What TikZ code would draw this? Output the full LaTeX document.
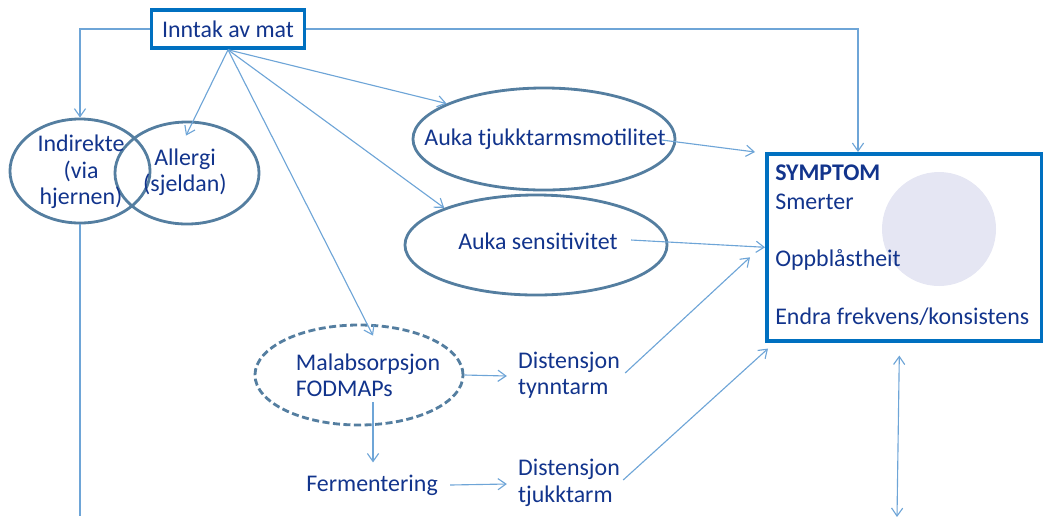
\documentclass[tikz,border=0pt]{standalone}
\usepackage{fontspec}
\setmainfont{Carlito}
\usetikzlibrary{shapes.geometric,arrows.meta,calc}

\definecolor{txtblue}{RGB}{18,52,140}
\definecolor{boxblue}{RGB}{0,112,192}
\definecolor{ringblue}{RGB}{84,126,160}
\definecolor{linkblue}{RGB}{110,165,215}
\definecolor{discfill}{RGB}{229,230,243}

\tikzset{
  lbl/.style={text=txtblue, font=\fontsize{17}{18.8}\selectfont, inner sep=0pt},
  ring/.style={ellipse, draw=ringblue, line width=2pt, inner sep=0pt},
  frame/.style={draw=boxblue, line width=2.5pt, inner sep=0pt},
  link/.style={draw=linkblue, line width=0.8pt, -{Straight Barb[length=2mm,width=2.8mm]}},
}

\begin{document}
\begin{tikzpicture}[x=0.025cm,y=-0.025cm]
\useasboundingbox (0,0) rectangle (1043,516);

      \node[frame, anchor=north west, minimum width=6.875cm, minimum height=4.675cm] (symptom) at (765,152) {};
      \fill[discfill] (939,229) circle[radius=57];
      \node[lbl, anchor=base west, font=\fontsize{17}{18.8}\selectfont\bfseries] (symhead) at (775,180) {SYMPTOM};
      \node[lbl, anchor=base west] (smerter) at (775,209) {Smerter};
      \node[lbl, anchor=base west] (oppblast) at (775,266) {Oppblåstheit};
      \node[lbl, anchor=base west] (endra) at (775,324) {Endra frekvens/konsistens};

      \node[frame, lbl, minimum width=3.825cm, minimum height=0.95cm] (inntak) at (228,29) {Inntak av mat};

      \node[ring, minimum width=3.5cm, minimum height=2.6cm] (indirekte ring) at (80,171) {};
      \node[ring, minimum width=3.6cm, minimum height=2.55cm] (allergi ring) at (187,173) {};
      \node[ring, minimum width=6.55cm, minimum height=2.55cm] (motilitet ring) at (544,139) {};
      \node[ring, minimum width=6.55cm, minimum height=2.5cm] (sens ring) at (536,245) {};
      \node[ring, dash pattern=on 5pt off 2.5pt, minimum width=5.2cm, minimum height=2.5cm] (malab ring) at (359,375) {};

      \node[lbl, align=center] (indirekte) at (81,172) {Indirekte\\(via\\hjernen)};
      \node[lbl, align=center] (allergi) at (185,172) {Allergi\\(sjeldan)};
      \node[lbl] (motilitet) at (545,139) {Auka tjukktarmsmotilitet};
      \node[lbl] (sens) at (538,241) {Auka sensitivitet};
      \node[lbl, align=left] (malab) at (368,375) {Malabsorpsjon\\FODMAPs};
      \node[lbl] (ferment) at (372,485) {Fermentering};
      \node[lbl, align=left] (tynntarm) at (569,375) {Distensjon\\tynntarm};
      \node[lbl, align=left] (tjukktarm) at (569,483) {Distensjon\\tjukktarm};

      \coordinate (floor) at (0,516);
      \coordinate (rim) at (897,517);

      \draw[link] (inntak.west) -| (indirekte ring.north);
      \draw[link] (inntak.east) -| ($(symptom.north west)+(93,0)$);
      \draw[link] (inntak.south) -- ($(allergi ring.north)+(-1,15)$);
      \draw[link] (inntak.south) -- (motilitet ring.160);
      \draw[link] (inntak.south) -- (sens ring.158);
      \draw[link] (inntak.south) -- ($(malab ring.north)+(14,12)$);

      \draw[link] ($(motilitet.east)+(-4,1)$) -- ($(symptom.north west)+(-10,0)$);
      \draw[link] ($(sens.east)+(13,-1)$) -- (symptom.west);
      \draw[link] ($(tynntarm.east)+(5,-2)$) -- ($(symptom.west)+(-15,10)$);
      \draw[link] ($(tjukktarm.east)+(3,-3)$) -- ($(symptom.south west)+(3,6)$);

      \draw[link] (malab ring.east) -- ($(tynntarm.west)+(-11,1)$);
      \draw[link] ($(malab.south)+(5,5)$) -- ($(ferment.north)+(1,-12)$);
      \draw[link] ($(ferment.east)+(12,0)$) -- ($(tjukktarm.west)+(-11,1)$);

      \draw[link, {Straight Barb[length=2mm,width=2.8mm]}-{Straight Barb[length=2mm,width=2.8mm]}] ($(symptom.south)+(-5,13)$) -- (rim);
      \draw[draw=linkblue, line width=0.8pt] (indirekte ring.south) -- (indirekte ring.south |- floor);

\end{tikzpicture}
\end{document}
